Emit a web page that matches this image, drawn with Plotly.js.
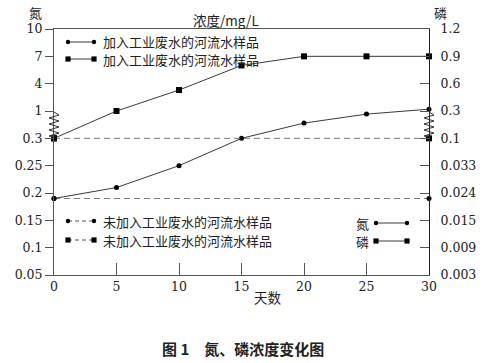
<!DOCTYPE html>
<html><head><meta charset="utf-8">
<script src="https://cdn.plot.ly/plotly-3.0.1.min.js"></script>
<style>body{margin:0;background:#fff}#chart{width:495px;height:363px}</style>
</head><body><div id="chart"></div>
<script>
// ---- data ----
const days = [0, 5, 10, 15, 20, 25, 30];
const nitrogenAdded = [0.19, 0.21, 0.25, 0.30, 0.69, 0.92, 1.2];
const phosphorusAdded = [0.1, 0.3, 0.53, 0.8, 0.9, 0.9, 0.9];
const controlDays = [0, 30];
const nitrogenControl = [0.19, 0.19];
const phosphorusControl = [0.1, 0.1];
const nitrogenTicks = [0.05, 0.1, 0.15, 0.2, 0.25, 0.3, 1, 4, 7, 10];
const phosphorusTicks = [0.003, 0.009, 0.015, 0.024, 0.033, 0.1, 0.3, 0.6, 0.9, 1.2];
const nitrogenTickText = ['0.05', '0.1', '0.15', '0.2', '0.25', '0.3', '1', '4', '7', '10'];
const phosphorusTickText = ['0.003', '0.009', '0.015', '0.024', '0.033', '0.1', '0.3', '0.6', '0.9', '1.2'];
const legendAdded = '加入工业废水的河流水样品';
const legendControl = '未加入工业废水的河流水样品';

// broken (piecewise) scale: value -> tick index position
function toPos(v, ticks) {
  if (v <= ticks[0]) return (v - ticks[0]) / (ticks[1] - ticks[0]);
  for (let i = 0; i < ticks.length - 1; i++) {
    if (v <= ticks[i + 1]) return i + (v - ticks[i]) / (ticks[i + 1] - ticks[i]);
  }
  const n = ticks.length - 1;
  return n + (v - ticks[n]) / (ticks[n] - ticks[n - 1]);
}
const idx = nitrogenTicks.map((_, i) => i);

const serif = 'DejaVu Serif, Liberation Serif, serif';
const cjk = 'Noto Sans CJK SC';
const lineCol = '#3a3a3a';

const traces = [
  {x: controlDays, y: nitrogenControl.map(v => toPos(v, nitrogenTicks)), yaxis: 'y',
   mode: 'lines+markers', line: {color: '#777', width: 1, dash: '6px,4px'},
   marker: {symbol: 'circle', size: 5, color: '#000'}, cliponaxis: false, hoverinfo: 'skip'},
  {x: controlDays, y: phosphorusControl.map(v => toPos(v, phosphorusTicks)), yaxis: 'y2',
   mode: 'lines+markers', line: {color: '#777', width: 1, dash: '6px,4px'},
   marker: {symbol: 'square', size: 6, color: '#000'}, cliponaxis: false, hoverinfo: 'skip'},
  {x: days, y: nitrogenAdded.map(v => toPos(v, nitrogenTicks)), yaxis: 'y',
   mode: 'lines+markers', line: {color: lineCol, width: 1},
   marker: {symbol: 'circle', size: 5, color: '#000'}, cliponaxis: false, hoverinfo: 'skip'},
  {x: days, y: phosphorusAdded.map(v => toPos(v, phosphorusTicks)), yaxis: 'y2',
   mode: 'lines+markers', line: {color: lineCol, width: 1},
   marker: {symbol: 'square', size: 6, color: '#000'}, cliponaxis: false, hoverinfo: 'skip'}
];

// pixel helpers for decorations (plot area 54..429 x 29..275)
const L = 54, R = 429, T = 29, B = 275;
const px = x => (x - L) / (R - L);
const py = y => (B - y) / (B - T);

function zigzag(cx) {
  let d = 'M ' + px(cx) + ',' + py(112);
  let y = 112, s = 1;
  while (y < 134) {
    y += 3;
    d += ' L ' + px(cx + 5 * s) + ',' + py(y);
    s = -s;
  }
  d += ' L ' + px(cx) + ',' + py(137);
  return {type: 'path', xref: 'paper', yref: 'paper', path: d, line: {color: '#333', width: 1}};
}

const shapes = [zigzag(L), zigzag(R)];
function legendGlyph(x0, x1, y, sym, dash, col) {
  shapes.push({type: 'line', xref: 'paper', yref: 'paper', x0: px(x0), x1: px(x1), y0: py(y), y1: py(y),
    line: {color: col, width: 1, dash: dash}});
  [x0, x1].forEach(x => {
    const r = sym === 'circle' ? 2.2 : 2.6;
    shapes.push({type: sym === 'circle' ? 'circle' : 'rect', xref: 'paper', yref: 'paper',
      x0: px(x - r), x1: px(x + r), y0: py(y + r), y1: py(y - r),
      fillcolor: '#000', line: {color: '#000', width: 0}});
  });
}
legendGlyph(68, 94, 42, 'circle', 'solid', lineCol);
legendGlyph(68, 94, 59, 'square', 'solid', lineCol);
legendGlyph(68, 94, 221, 'circle', '4px,3px', '#555');
legendGlyph(68, 94, 240, 'square', '4px,3px', '#555');
legendGlyph(376, 407, 223, 'circle', 'solid', lineCol);
legendGlyph(376, 407, 241, 'square', 'solid', lineCol);

function ann(text, x, y, size, xanchor, extra) {
  return Object.assign({text: text, xref: 'paper', yref: 'paper', x: px(x), y: py(y),
    xanchor: xanchor || 'center', yanchor: 'middle', showarrow: false,
    font: {family: cjk, size: size, color: '#222'}}, extra || {});
}
const annotations = [
  ann('氮', 35, 12, 13),
  ann('磷', 440, 12, 13),
  ann('浓度/mg/L', 226, 20, 13.5),
  ann('天数', 268, 297, 13.5),
  ann('<b>图 1　氮、磷浓度变化图</b>', 243, 348, 15),
  ann(legendAdded, 101, 41.5, 13, 'left'),
  ann(legendAdded, 101, 59.5, 13, 'left'),
  ann(legendControl, 101, 221, 13, 'left'),
  ann(legendControl, 101, 240, 13, 'left'),
  ann('氮', 362, 223, 13),
  ann('磷', 362, 241, 13)
];

const tf = {family: serif, size: 12.5, color: '#222'};
const layout = {
  width: 495, height: 363,
  margin: {l: L, r: 495 - R, t: T, b: 363 - B},
  paper_bgcolor: '#fff', plot_bgcolor: '#fff',
  showlegend: false,
  font: {family: serif, color: '#222'},
  xaxis: {range: [0, 30], tickvals: days, ticktext: days.map(String),
    ticks: 'inside', ticklen: 12, tickcolor: '#555', tickwidth: 1,
    showline: true, linecolor: '#555', linewidth: 1, mirror: true,
    showgrid: false, zeroline: false, tickfont: tf},
  yaxis: {range: [0, 9], tickvals: idx, ticktext: nitrogenTickText,
    ticks: 'outside', ticklen: 8, tickcolor: '#555', tickwidth: 1,
    showline: true, linecolor: '#555', linewidth: 1,
    showgrid: false, zeroline: false, tickfont: tf},
  yaxis2: {range: [0, 9], overlaying: 'y', side: 'right', tickvals: idx, ticktext: phosphorusTickText,
    ticks: 'inside', ticklen: 9, tickcolor: '#555', tickwidth: 1,
    showline: true, linecolor: '#222', linewidth: 1, ticklabelstandoff: 8,
    showgrid: false, zeroline: false, tickfont: tf},
  shapes: shapes,
  annotations: annotations
};

Plotly.newPlot('chart', traces, layout, {staticPlot: true, displayModeBar: false});
</script>
</body></html>
